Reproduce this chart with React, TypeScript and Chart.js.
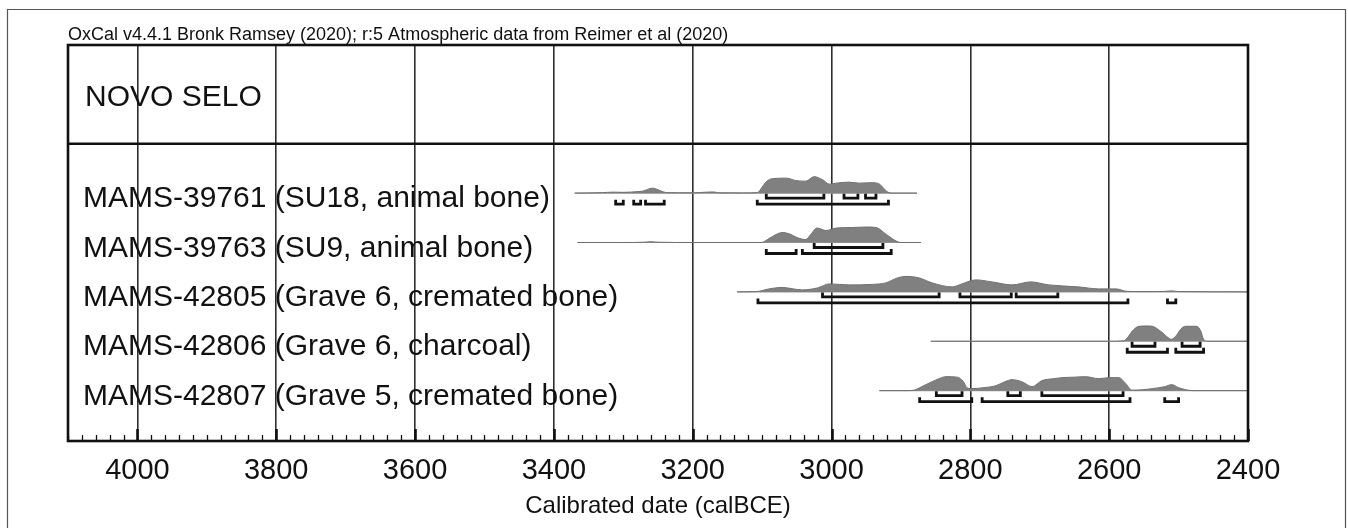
import { useEffect, useRef } from "react";
import { Chart, registerables } from "chart.js";

Chart.register(...registerables);

// ---------- text ----------
const topTitle = "OxCal v4.4.1 Bronk Ramsey (2020); r:5 Atmospheric data from Reimer et al (2020)";
const groupLabel = "NOVO SELO";
const axisTitle = "Calibrated date (calBCE)";

// ---------- axis ----------
const xMin = 2400;
const xMax = 4100;
const majorStep = 200;
const minorStep = 20;

// ---------- samples ----------
const sampleLabels = [
  "MAMS-39761 (SU18, animal bone)",
  "MAMS-39763 (SU9, animal bone)",
  "MAMS-42805 (Grave 6, cremated bone)",
  "MAMS-42806 (Grave 6, charcoal)",
  "MAMS-42807 (Grave 5, cremated bone)",
];

// baseline extents (calBCE) for each sample
const extent39761 = [3370, 2877];
const extent39763 = [3366, 2871];
const extent42805 = [3136, 2400];
const extent42806 = [2857, 2400];
const extent42807 = [2931, 2400];

// probability distributions (relative heights)
const years39761 = [3370, 3330, 3315, 3300, 3290, 3280, 3272, 3258, 3245, 3238, 3200, 3180, 3170, 3162, 3130, 3107, 3100, 3094, 3085, 3065, 3051, 3037, 3025, 3013, 3003, 2993, 2975, 2960, 2941, 2931, 2920, 2914, 2877];
const prob39761 = [0, 0.5, 1, 0.8, 1, 1.5, 2, 5, 2, 0.5, 0.3, 1, 1.2, 0.3, 0.2, 0.5, 6, 11.5, 14.5, 15, 12.5, 12, 16.5, 13.5, 9, 10, 11, 10, 10.5, 9, 1.5, 0, 0];

const years39763 = [3366, 3300, 3270, 3260, 3250, 3200, 3101, 3090, 3080, 3071, 3060, 3050, 3037, 3030, 3021, 3008, 2993, 2970, 2950, 2936, 2921, 2907, 2900, 2871];
const prob39763 = [0, 0, 0.3, 0.8, 0.3, 0, 0, 4, 8, 10, 8.5, 5, 3, 8, 14.5, 12, 14.5, 15, 15.5, 15, 8, 1.5, 0, 0];

const years42805 = [3136, 3108, 3090, 3071, 3055, 3042, 3020, 3003, 2975, 2941, 2922, 2905, 2893, 2874, 2855, 2826, 2816, 2800, 2792, 2769, 2740, 2713, 2687, 2644, 2615, 2590, 2574, 2550, 2520, 2510, 2500, 2400];
const prob42805 = [0, 0.3, 3, 4.5, 3, 2, 4, 8, 7, 7.5, 9, 14, 15.5, 14, 9, 5, 7, 11, 12, 10, 7, 10, 7, 5, 3, 3, 0.5, 0.3, 0.5, 1, 0.3, 0];

const years42806 = [2857, 2600, 2579, 2572, 2567, 2557, 2545, 2538, 2524, 2510, 2503, 2497, 2490, 2474, 2468, 2464, 2458, 2400];
const prob42806 = [0, 0, 0.5, 5, 10, 15, 15.3, 15, 9, 2, 6, 12, 15, 15, 10, 2, 0, 0];

const years42807 = [2931, 2890, 2881, 2870, 2855, 2845, 2835, 2819, 2810, 2805, 2799, 2780, 2763, 2750, 2740, 2726, 2711, 2697, 2680, 2668, 2650, 2634, 2615, 2600, 2586, 2576, 2567, 2550, 2538, 2520, 2510, 2500, 2490, 2480, 2400];
const prob42807 = [0, 0, 0.5, 4, 9, 12, 14, 13.5, 9, 3, 2, 3, 5, 9, 11, 9, 4, 10, 12, 13, 13.5, 14, 12, 13, 13, 7, 0.5, 1, 2, 4, 6, 3, 1, 0, 0];

// 68.2% and 95.4% ranges (calBCE)
const r68_39761 = [[3094, 3011], [2982, 2962], [2951, 2936]];
const r95_39761 = [[3311, 3300], [3285, 3275], [3268, 3241], [3107, 2918]];
const r68_39763 = [[3025, 2926]];
const r95_39763 = [[3094, 3051], [3042, 2914]];
const r68_42805 = [[3013, 2845], [2815, 2741], [2734, 2674]];
const r95_42805 = [[3106, 2573], [2516, 2504]];
const r68_42806 = [[2567, 2534], [2495, 2469]];
const r95_42806 = [[2574, 2516], [2504, 2464]];
const r68_42807 = [[2849, 2812], [2746, 2728], [2697, 2580]];
const r95_42807 = [[2873, 2798], [2783, 2570], [2520, 2500]];

const rows = [
  { extent: extent39761, years: years39761, prob: prob39761, r68: r68_39761, r95: r95_39761 },
  { extent: extent39763, years: years39763, prob: prob39763, r68: r68_39763, r95: r95_39763 },
  { extent: extent42805, years: years42805, prob: prob42805, r68: r68_42805, r95: r95_42805 },
  { extent: extent42806, years: years42806, prob: prob42806, r68: r68_42806, r95: r95_42806 },
  { extent: extent42807, years: years42807, prob: prob42807, r68: r68_42807, r95: r95_42807 },
];

const FONT = "'Liberation Sans', Arial, Helvetica, sans-serif";
const ROW_OFFSET = 3; // first sample row in y units
const HEADER_DIVIDER = 2;
const Y_MAX = 8.02;
const DENS = 1 / 49.4; // y units per relative probability unit
const OFF68 = 5 / 49.4;
const OFF95 = 11 / 49.4;
const END = 4.5 / 49.4;

function bracketPoints(ranges: number[][], yl: number) {
  const pts: { x: number; y: number | null }[] = [];
  ranges.forEach(([a, b]) => {
    pts.push({ x: a, y: yl - END });
    pts.push({ x: a, y: yl });
    pts.push({ x: b, y: yl });
    pts.push({ x: b, y: yl - END });
    pts.push({ x: b, y: null });
  });
  return pts;
}

const decorPlugin = {
  id: "oxcalDecor",
  afterDraw(chart: any) {
    const { ctx, chartArea: a, scales } = chart;
    const x = scales.x;
    const y = scales.y;
    ctx.save();
    // outer page frame
    ctx.strokeStyle = "#555";
    ctx.lineWidth = 1.2;
    ctx.beginPath();
    ctx.moveTo(7.5, 528);
    ctx.lineTo(7.5, 9.5);
    ctx.lineTo(1345.5, 9.5);
    ctx.lineTo(1345.5, 528);
    ctx.stroke();

    // inward ticks
    ctx.strokeStyle = "#111";
    for (let v = xMin; v <= xMax; v += minorStep) {
      const px = Math.round(x.getPixelForValue(v)) + 0.5;
      const major = v % majorStep === 0;
      ctx.lineWidth = major ? 2.6 : 1.3;
      ctx.beginPath();
      ctx.moveTo(px, a.bottom);
      ctx.lineTo(px, a.bottom - (major ? 12 : 6));
      ctx.stroke();
    }

    // header divider
    const hy = y.getPixelForValue(HEADER_DIVIDER);
    ctx.lineWidth = 2.6;
    ctx.beginPath();
    ctx.moveTo(a.left, hy);
    ctx.lineTo(a.right, hy);
    ctx.stroke();

    // plot frame
    ctx.strokeRect(a.left, a.top, a.right - a.left, a.bottom - a.top);

    // texts
    ctx.fillStyle = "#111";
    ctx.textBaseline = "alphabetic";
    ctx.textAlign = "left";
    ctx.font = `18px ${FONT}`;
    ctx.fillText(topTitle, a.left, a.top - 5);
    ctx.font = `30px ${FONT}`;
    ctx.fillText(groupLabel, a.left + 17, y.getPixelForValue(1.235));
    sampleLabels.forEach((lab, i) => {
      ctx.fillText(lab, a.left + 15, y.getPixelForValue(ROW_OFFSET + i) + 14);
    });
    ctx.restore();
  },
};

export default function App() {
  const ref = useRef<HTMLCanvasElement>(null);
  useEffect(() => {
    if (!ref.current) return;
    const datasets: any[] = [];
    // brackets (drawn on top)
    rows.forEach((r, i) => {
      const base = ROW_OFFSET + i;
      datasets.push({
        data: [...bracketPoints(r.r68, base + OFF68), ...bracketPoints(r.r95, base + OFF95)],
        borderColor: "#111",
        borderWidth: 2.8,
        pointRadius: 0,
        spanGaps: false,
        fill: false,
        borderJoinStyle: "miter",
        borderCapStyle: "butt",
      });
    });
    // densities
    rows.forEach((r, i) => {
      const base = ROW_OFFSET + i;
      datasets.push({
        data: r.years.map((yr, k) => ({ x: yr, y: base - r.prob[k] * DENS })),
        borderColor: "#6f6f6f",
        borderWidth: 1,
        backgroundColor: "#808080",
        pointRadius: 0,
        cubicInterpolationMode: "monotone",
        fill: { value: base },
      });
    });
    // baselines
    rows.forEach((r, i) => {
      const base = ROW_OFFSET + i;
      datasets.push({
        data: [{ x: r.extent[0], y: base }, { x: r.extent[1], y: base }],
        borderColor: "#9a9a9a",
        borderWidth: 1.2,
        pointRadius: 0,
        fill: false,
      });
    });

    const chart = new Chart(ref.current, {
      type: "line",
      data: { datasets },
      plugins: [decorPlugin],
      options: {
        animation: false,
        responsive: true,
        maintainAspectRatio: false,
        layout: { padding: { left: 68, right: 100, top: 45, bottom: 0 } },
        plugins: { legend: { display: false }, tooltip: { enabled: false } },
        events: [],
        scales: {
          x: {
            type: "linear",
            min: xMin,
            max: xMax,
            reverse: true,
            z: 1,
            afterFit: (s: any) => {
              s.height = 87;
            },
            border: { display: false },
            grid: { color: "#2e2e2e", lineWidth: 1.6, drawTicks: false },
            ticks: {
              stepSize: majorStep,
              includeBounds: false,
              autoSkip: false,
              maxRotation: 0,
              padding: 13,
              color: "#111",
              font: { family: FONT, size: 29 },
              callback: (v: any) => String(v),
            },
            title: {
              display: true,
              text: axisTitle,
              color: "#111",
              font: { family: FONT, size: 24 },
              padding: { top: 0, bottom: 7 },
            },
          },
          y: {
            type: "linear",
            display: false,
            min: 0,
            max: Y_MAX,
            reverse: true,
          },
        },
      } as any,
    });
    return () => chart.destroy();
  }, []);
  return (
    <div style={{ position: "absolute", left: 0, top: 0, width: 1348, height: 528, background: "#fff" }}>
      <canvas ref={ref} />
    </div>
  );
}
